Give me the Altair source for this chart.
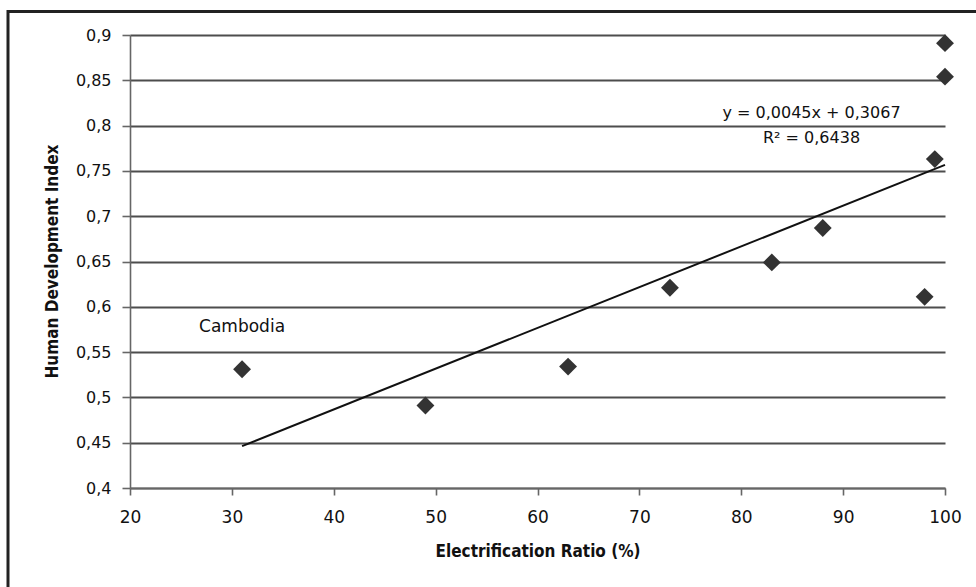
import altair as alt
import pandas as pd

# Electrification ratio (%) vs. Human Development Index, one point per country
electrification = [31, 49, 63, 73, 83, 88, 98, 99, 100, 100]
hdi = [0.531, 0.491, 0.534, 0.621, 0.649, 0.687, 0.611, 0.763, 0.854, 0.891]
country_labels = ["Cambodia", "", "", "", "", "", "", "", "", ""]

# Linear trend line reported for the series
SLOPE = 0.0045
INTERCEPT = 0.3067
R_SQUARED = 0.6438

x_ticks = [20, 30, 40, 50, 60, 70, 80, 90, 100]
y_ticks = [0.4, 0.45, 0.5, 0.55, 0.6, 0.65, 0.7, 0.75, 0.8, 0.85, 0.9]

# Where the trend equation is written (data coordinates)
EQ_X = 86.9
EQ_Y = [0.814, 0.786]


def comma(value, digits):
    return f"{value:.{digits}f}".replace(".", ",")


points = pd.DataFrame({"ratio": electrification, "hdi": hdi, "label": country_labels})

x_lo, x_hi = min(electrification), max(electrification)
trend = pd.DataFrame({
    "ratio": [x_lo, x_hi],
    "hdi": [SLOPE * x_lo + INTERCEPT, SLOPE * x_hi + INTERCEPT],
})

equation = pd.DataFrame({
    "ratio": [EQ_X, EQ_X],
    "hdi": EQ_Y,
    "text": [
        f"y = {comma(SLOPE, 4)}x + {comma(INTERCEPT, 4)}",
        f"R\u00b2 = {comma(R_SQUARED, 4)}",
    ],
})

FONT = "DejaVu Sans"
TITLE_FONT = "DejaVu Sans Condensed, DejaVu Sans"
GRID = "#4d4d4d"

x_scale = alt.Scale(domain=[20, 100], nice=False, zero=False)
y_scale = alt.Scale(domain=[0.4, 0.9], nice=False, zero=False)

x_enc = alt.X(
    "ratio:Q",
    scale=x_scale,
    axis=alt.Axis(
        title="Electrification Ratio (%)",
        values=x_ticks,
        grid=False,
        tickSize=7,
        labelPadding=14,
        labelFontSize=17,
        labelFlush=False,
        titleFontSize=17,
        titleY=63,
        titleBaseline="middle",
    ),
)
y_enc = alt.Y(
    "hdi:Q",
    scale=y_scale,
    axis=alt.Axis(
        title="Human Development Index",
        values=y_ticks,
        grid=True,
        gridColor=GRID,
        gridWidth=1.8,
        tickSize=8,
        labelPadding=11,
        labelFontSize=16,
        labelFlush=False,
        labelExpr="replace(format(datum.value, '.2~f'), '.', ',')",
        titleFontSize=17,
        titleAngle=-90,
        titleX=-78,
        titleY=226,
        titleBaseline="middle",
        titleAlign="center",
    ),
)

diamonds = alt.Chart(points).mark_point(
    shape="diamond", filled=True, size=320, color="#333333", opacity=1
).encode(x=x_enc, y=y_enc)

country_text = alt.Chart(points).transform_filter(
    alt.datum.label != ""
).mark_text(font=FONT, fontSize=17, color="#111111", dy=-42).encode(
    x=alt.X("ratio:Q", scale=x_scale),
    y=alt.Y("hdi:Q", scale=y_scale),
    text="label:N",
)

trend_line = alt.Chart(trend).mark_line(color="#111111", strokeWidth=2).encode(
    x=alt.X("ratio:Q", scale=x_scale),
    y=alt.Y("hdi:Q", scale=y_scale),
)

equation_text = alt.Chart(equation).mark_text(
    font=FONT, fontSize=16, color="#111111", baseline="middle"
).encode(
    x=alt.X("ratio:Q", scale=x_scale),
    y=alt.Y("hdi:Q", scale=y_scale),
    text="text:N",
)

# Frame along the top and left edges of the figure
frame_src = pd.DataFrame({"k": [0]})
frame_top = alt.Chart(frame_src).mark_rule(color="#222222", strokeWidth=3).encode(
    x=alt.value(-123), x2=alt.value(846), y=alt.value(-23.5)
)
frame_left = alt.Chart(frame_src).mark_rule(color="#222222", strokeWidth=3).encode(
    x=alt.value(-122), y=alt.value(-25), y2=alt.value(552)
)

chart = alt.layer(
    trend_line, diamonds, country_text, equation_text, frame_top, frame_left
).properties(
    width=815,
    height=453,
    padding={"left": 130, "top": 35, "right": 31, "bottom": 99},
    autosize=alt.AutoSizeParams(type="none"),
    background="white",
).configure_view(
    stroke=None
).configure_axis(
    labelFont=FONT,
    labelColor="#111111",
    titleFont=TITLE_FONT,
    titleFontWeight="bold",
    titleColor="#111111",
    domainColor="#666666",
    domainWidth=1.6,
    tickColor="#666666",
    tickWidth=1.6,
)

chart.save("out.html", embed_options={"renderer": "svg", "actions": False})
